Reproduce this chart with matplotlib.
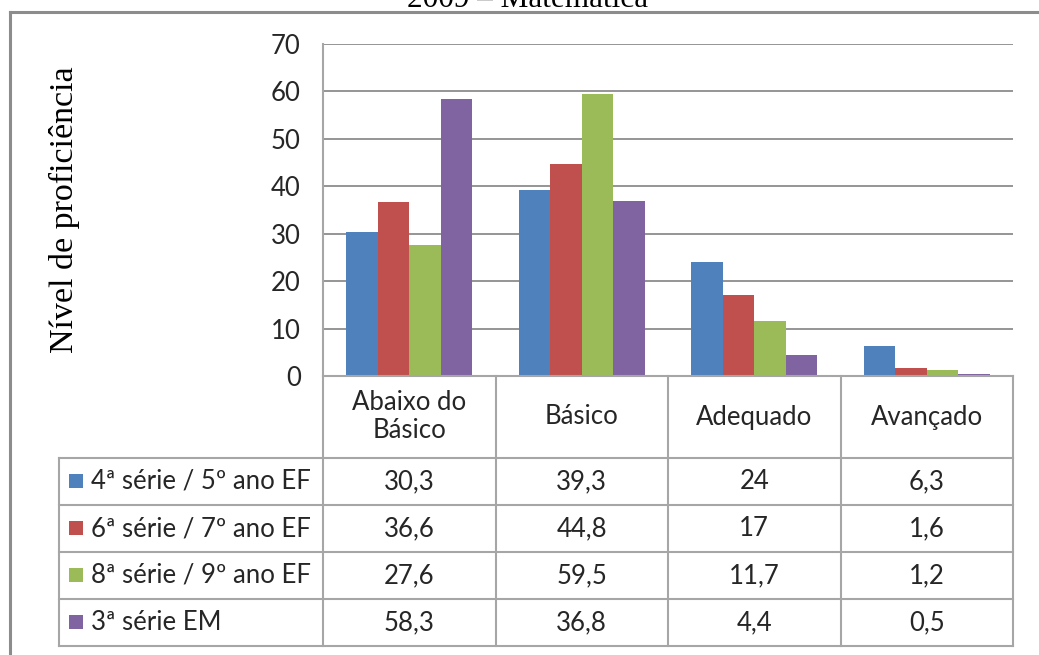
import matplotlib
matplotlib.use("Agg")
import matplotlib.pyplot as plt
import numpy as np

categories = ["Abaixo do\nBásico", "Básico", "Adequado", "Avançado"]
series_names = ["4ª série / 5º ano EF", "6ª série / 7º ano EF",
                "8ª série / 9º ano EF", "3ª série EM"]
serie_4 = [30.3, 39.3, 24, 6.3]
serie_6 = [36.6, 44.8, 17, 1.6]
serie_8 = [27.6, 59.5, 11.7, 1.2]
serie_3em = [58.3, 36.8, 4.4, 0.5]
series = [serie_4, serie_6, serie_8, serie_3em]
colors = ["#4F81BD", "#C0504D", "#9BBB59", "#8064A2"]
yticks = [0, 10, 20, 30, 40, 50, 60, 70]

W, H = 1039, 655
FONT = "Lato"
SERIF = "Liberation Serif"
LINE = "#a6a6a6"
TXT = "#262626"
FS = 18.5

# layout in pixels
plot_l, plot_r = 323, 1013
plot_t, plot_b = 44, 376
head_b = 458
row_h = 47
tab_l = 59


def fmt(v):
    s = f"{v:g}"
    return s.replace(".", ",")


fig = plt.figure(figsize=(W / 100, H / 100), dpi=100)

ax = fig.add_axes([plot_l / W, 1 - plot_b / H, (plot_r - plot_l) / W, (plot_b - plot_t) / H])
x = np.arange(len(categories))
bw = 0.183
for i, (vals, c) in enumerate(zip(series, colors)):
    ax.bar(x + (i - 1.5) * bw, vals, bw, color=c, zorder=3)

ax.set_xlim(-0.5, len(categories) - 0.5)
ax.set_ylim(0, 70)
ax.set_yticks(yticks)
ax.set_xticks([])
ax.yaxis.grid(True, color="#8c8c8c", lw=1.3, zorder=0)
for s in ["top", "right", "bottom"]:
    ax.spines[s].set_visible(False)
ax.spines["left"].set_color(LINE)
ax.spines["left"].set_linewidth(1.5)
ax.tick_params(axis="y", length=0, pad=16, labelsize=FS, labelcolor=TXT)
for lab in ax.get_yticklabels():
    lab.set_fontfamily(FONT)
ax.set_ylabel("Nível de proficiência", fontfamily=SERIF, fontsize=24.5, labelpad=0)
ax.yaxis.set_label_coords(-(plot_l - 80) / (plot_r - plot_l), 0.5)

# overlay in pixel coordinates for the data table and frame
ov = fig.add_axes([0, 0, 1, 1], facecolor="none")
ov.set_xlim(0, W)
ov.set_ylim(H, 0)
ov.axis("off")

ncat = len(categories)
col_w = (plot_r - plot_l) / ncat
col_edges = [plot_l + k * col_w for k in range(ncat + 1)]
row_edges = [head_b + k * row_h for k in range(len(series) + 1)]
tab_b = row_edges[-1]

# table grid
ov.plot([plot_l, plot_r], [plot_b, plot_b], color=LINE, lw=1.5)
for y in row_edges:
    ov.plot([tab_l, plot_r], [y, y], color=LINE, lw=1.5)
ov.plot([tab_l, tab_l], [head_b, tab_b], color=LINE, lw=1.5)
for xe in col_edges:
    ov.plot([xe, xe], [plot_b, tab_b], color=LINE, lw=1.5)

# header labels
for k, cat in enumerate(categories):
    ov.text((col_edges[k] + col_edges[k + 1]) / 2, (plot_b + head_b) / 2, cat,
            ha="center", va="center", fontsize=FS, fontfamily=FONT, color=TXT,
            linespacing=1.15)

# series rows with legend keys
for r, (name, vals, c) in enumerate(zip(series_names, series, colors)):
    yc = (row_edges[r] + row_edges[r + 1]) / 2
    ov.add_patch(plt.Rectangle((69, yc - 7.5), 14, 14, facecolor=c, edgecolor="none"))
    ov.text(91, yc, name, ha="left", va="center", fontsize=FS, fontfamily=FONT, color=TXT)
    for k, v in enumerate(vals):
        ov.text((col_edges[k] + col_edges[k + 1]) / 2, yc, fmt(v), ha="center",
                va="center", fontsize=FS, fontfamily=FONT, color=TXT)

# chart frame and title
ov.plot([10, 10], [12, H + 5], color="#8c8c8c", lw=2.2, clip_on=False)
ov.plot([10, W + 5], [12, 12], color="#8c8c8c", lw=2.2, clip_on=False)
ov.text(528, 7, "2009 – Matemática", ha="center", va="baseline",
        fontsize=22.5, fontfamily=SERIF, color="black")

fig.savefig("out.png", dpi=100)
